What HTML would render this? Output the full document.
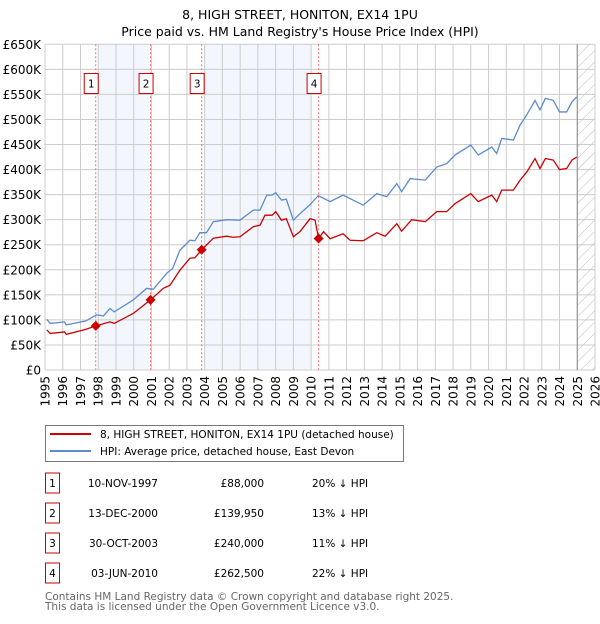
<!DOCTYPE html>
<html><head><meta charset="utf-8"><style>
body{margin:0;background:#fff;width:600px;height:620px;overflow:hidden;font-family:"DejaVu Sans","Liberation Sans",sans-serif}
svg text{font-family:"DejaVu Sans","Liberation Sans",sans-serif}
</style></head><body>
<svg id="c" width="600" height="620" xmlns="http://www.w3.org/2000/svg">
<text x="300" y="19" text-anchor="middle" font-size="12.5">8, HIGH STREET, HONITON, EX14 1PU</text>
<text x="300" y="36" text-anchor="middle" font-size="12.5">Price paid vs. HM Land Registry's House Price Index (HPI)</text>
<g id="plot"></g>
<g>
<rect x="45.5" y="425.5" width="358" height="36" fill="#fff" stroke="#777"/>
<line x1="50" y1="434" x2="91" y2="434" stroke="#cc0000" stroke-width="2"/>
<text x="100" y="438" font-size="10.5">8, HIGH STREET, HONITON, EX14 1PU (detached house)</text>
<line x1="50" y1="451" x2="91" y2="451" stroke="#5b8bd0" stroke-width="2"/>
<text x="100" y="455" font-size="10.5">HPI: Average price, detached house, East Devon</text>
</g>
<g id="table" font-size="10.5"></g>
<text x="45" y="600" font-size="10.5" fill="#666">Contains HM Land Registry data © Crown copyright and database right 2025.</text>
<text x="45" y="610" font-size="10.5" fill="#666">This data is licensed under the Open Government Licence v3.0.</text>
</svg>
<script>
const hpiYears=[1995.1,1995.3,1996.1,1996.2,1997.3,1997.9,1998.3,1998.66,1998.9,1999.98,2000.73,2001.1,2001.86,2002.2,2002.6,2003.17,2003.45,2003.73,2004.1,2004.49,2005.24,2005.99,2006.74,2007.12,2007.5,2007.8,2008.0,2008.33,2008.6,2009.0,2009.37,2009.94,2010.4,2011.07,2011.8,2012.94,2013.7,2014.26,2014.83,2015.1,2015.58,2016.43,2017.08,2017.64,2018.11,2019.0,2019.42,2020.18,2020.46,2020.74,2021.4,2021.78,2022.15,2022.62,2022.9,2023.2,2023.65,2024.0,2024.4,2024.7,2024.97];
const hpiValues=[101,93,96,90,98,110,108,123,116,140,163,161,193,203,239,259,258,274,274,296,300,299,319,319,349,349,354,339,341,299,312,330,348,336,349,329,352,346,372,356,382,379,405,412,429,449,429,445,432,462,459,489,509,538,519,542,538,515,515,535,545];
const priceYears=[1995.1,1995.3,1996.1,1996.2,1997.3,1997.86,1998.66,1998.9,1999.98,2000.95,2001.67,2002.04,2002.6,2003.17,2003.45,2003.83,2004.49,2005.24,2005.6,2005.99,2006.74,2007.12,2007.4,2007.8,2008.0,2008.33,2008.6,2009.0,2009.37,2009.94,2010.22,2010.42,2010.7,2011.07,2011.8,2012.2,2012.94,2013.7,2014.17,2014.83,2015.1,2015.67,2016.43,2017.08,2017.64,2018.11,2019.0,2019.42,2020.18,2020.46,2020.74,2021.4,2021.78,2022.15,2022.62,2022.9,2023.2,2023.65,2024.0,2024.4,2024.7,2024.97];
const priceValues=[80,73,76,71,81,88,96,93,113,139.95,163,169,199,223,224,240,263,267,265,266,286,289,309,309,316,299,302,266,276,302,299,262.5,276,262,272,259,258,274,267,292,277,300,296,316,316,332,352,336,349,336,359,359,379,395,422,402,422,419,400,402,419,425];
const saleLabels=["1","2","3","4"];
const saleYears=[1997.86,2000.95,2003.83,2010.42];
const salePrices=[88,139.95,240,262.5];
const saleDates=["10-NOV-1997","13-DEC-2000","30-OCT-2003","03-JUN-2010"];
const salePriceText=["£88,000","£139,950","£240,000","£262,500"];
const saleHpiText=["20% ↓ HPI","13% ↓ HPI","11% ↓ HPI","22% ↓ HPI"];
const yTicks=[0,50,100,150,200,250,300,350,400,450,500,550,600,650];
const xTicks=[1995,1996,1997,1998,1999,2000,2001,2002,2003,2004,2005,2006,2007,2008,2009,2010,2011,2012,2013,2014,2015,2016,2017,2018,2019,2020,2021,2022,2023,2024,2025,2026];
const NS="http://www.w3.org/2000/svg";
const X0=45,X1=595,Y0=370,Y1=44.3;
const x=y=>X0+(y-1995)/(2026-1995)*(X1-X0);
const yv=v=>Y0-v/650*(Y0-Y1);
function mk(tag,attrs,parent){const e=document.createElementNS(NS,tag);for(const k in attrs)e.setAttribute(k,attrs[k]);parent.appendChild(e);return e;}
const p=document.getElementById('plot');
let r;
r=mk('rect',{x:X0,y:Y1,width:X1-X0,height:Y0-Y1,fill:'#fff'},p);


r=mk('rect',{x:98,y:Y1,width:52,height:Y0-Y1,fill:'#f3f6fd'},p);


r=mk('rect',{x:204,y:Y1,width:107,height:Y0-Y1,fill:'#f3f6fd'},p);


const defs=mk('defs',{},p);
const pat=mk('pattern',{id:'h',width:8,height:8,patternUnits:'userSpaceOnUse',patternTransform:'rotate(45)'},defs);
mk('line',{x1:0,y1:0,x2:0,y2:8,stroke:'#bbb','stroke-width':1},pat);
r=mk('rect',{x:x(2025),y:Y1,width:X1-x(2025),height:Y0-Y1,fill:'url(#h)'},p);


yTicks.forEach(v=>{
 const l=mk('line',{x1:X0,x2:X1,y1:yv(v),y2:yv(v),stroke:'#ccc','stroke-width':1},p);
 
 
 const t=mk('text',{x:41,y:yv(v)+4.5,'text-anchor':'end','font-size':12},p);
 
 
 t.textContent=v===0?'£0':'£'+v+'K';
});
xTicks.forEach(yr=>{
 const l=mk('line',{x1:x(yr),x2:x(yr),y1:Y1,y2:Y0,stroke:'#ccc','stroke-width':1},p);
 
 
 const t=mk('text',{x:0,y:0,'text-anchor':'end','font-size':12,transform:`translate(${x(yr)+4.5},376) rotate(-90)`},p);
 
 
 t.textContent=yr;
});
r=mk('line',{x1:x(2025),x2:x(2025),y1:Y1,y2:Y0,stroke:'#888','stroke-width':1},p);


saleYears.forEach((yr,i)=>{
 const l=mk('line',{x1:x(yr),x2:x(yr),y1:Y1,y2:Y0,stroke:'#f07070','stroke-width':1,'stroke-dasharray':'2,2'},p);
 
 
});
const hp=mk('polyline',{points:hpiYears.map((t,i)=>x(t)+','+yv(hpiValues[i])).join(' '),fill:'none',stroke:'#5b8bd0','stroke-width':1.3},p);


const pp=mk('polyline',{points:priceYears.map((t,i)=>x(t)+','+yv(priceValues[i])).join(' '),fill:'none',stroke:'#cc0000','stroke-width':1.3},p);


saleYears.forEach((yr,i)=>{
 const cx=x(yr),cy=yv(salePrices[i]);
 const d=mk('polygon',{points:`${cx},${cy-5} ${cx+5},${cy} ${cx},${cy+5} ${cx-5},${cy}`,fill:'#cc0000'},p);
 
 
 const b=mk('rect',{x:cx-11.5,y:73.5,width:14,height:20,fill:'#fff',stroke:'#cc0000'},p);
 
 
 const t=mk('text',{x:cx-4.5,y:87.5,'text-anchor':'middle','font-size':10.5},p);
 
 
 t.textContent=saleLabels[i];
});
const tb=document.getElementById('table');
saleLabels.forEach((s,i)=>{
 const cy=483+i*30;
 const b=mk('rect',{x:45.5,y:cy-10,width:14,height:20,fill:'#fff',stroke:'#cc0000'},tb);
 
 
 const vals=[[52.5,s,'middle'],[158,saleDates[i],'end'],[264,salePriceText[i],'end'],[312,saleHpiText[i],'start']];
 vals.forEach(([vx,txt,a],j)=>{
  const t=mk('text',{x:vx,y:cy+4,'text-anchor':a},tb);
  
  
  t.textContent=txt;
 });
});
</script>
</body></html>
